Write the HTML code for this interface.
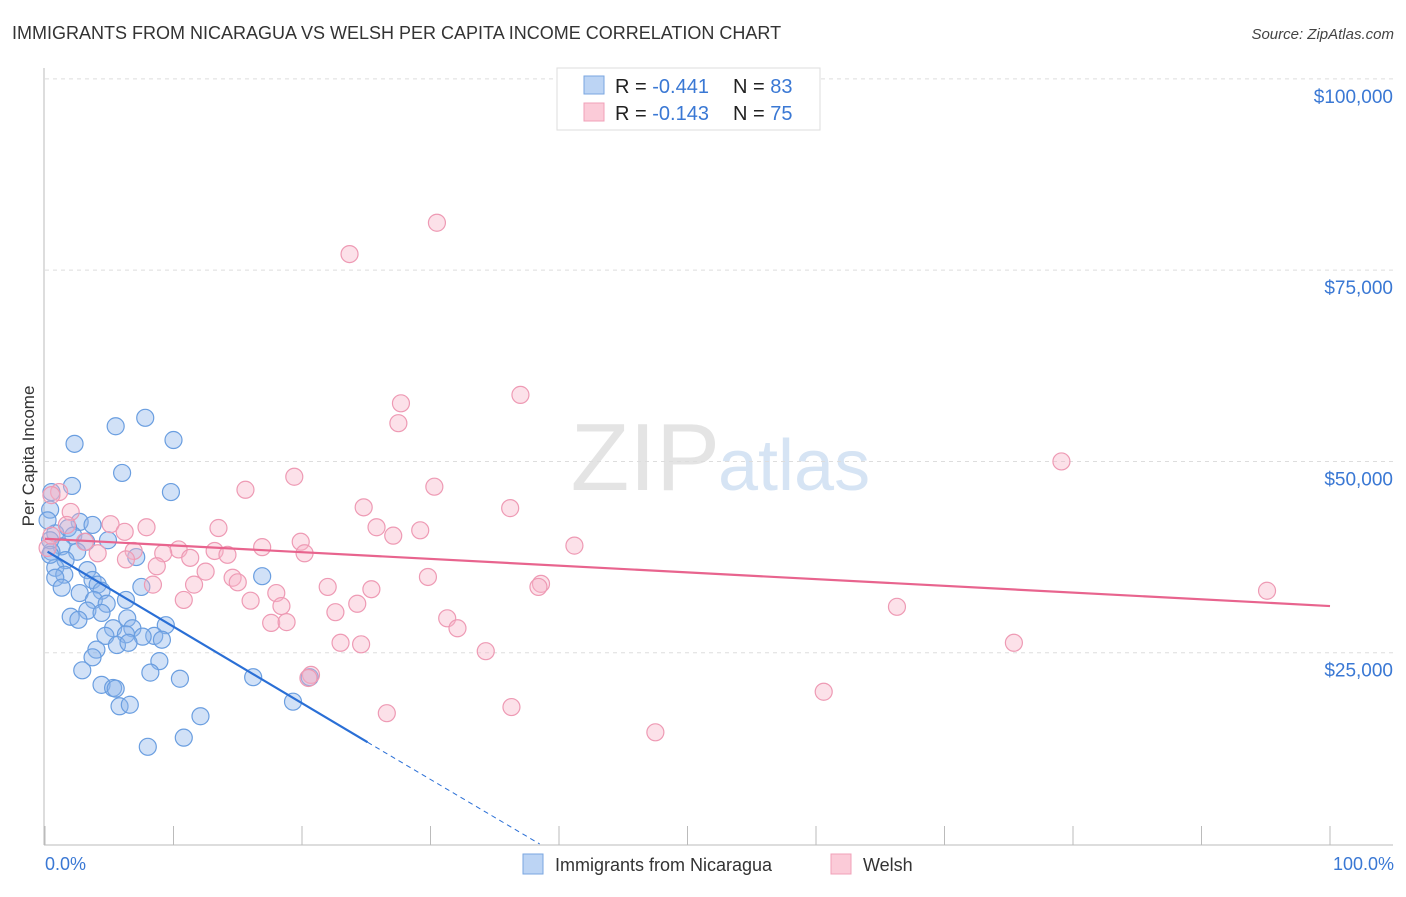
<!DOCTYPE html>
<html><head><meta charset="utf-8">
<style>
body{margin:0;background:#fff;font-family:"Liberation Sans",sans-serif;}
svg text{font-family:"Liberation Sans",sans-serif;}
</style></head>
<body>
<svg id="chart" width="1406" height="892" xmlns="http://www.w3.org/2000/svg">
<text x="12" y="39" font-size="18" fill="#333">IMMIGRANTS FROM NICARAGUA VS WELSH PER CAPITA INCOME CORRELATION CHART</text>
<text x="1394" y="39" font-size="15" fill="#444" font-style="italic" text-anchor="end">Source: ZipAtlas.com</text>
<text x="720" y="490" font-size="96" fill="#e4e4e4" text-anchor="end" font-family="Liberation Serif">ZIP</text>
<text x="718" y="490" font-size="72" fill="#d6e4f4">atlas</text>
<g id="grid"></g>
<g id="axes"></g>
<g id="pts"></g>
<g id="trend"></g>
<text transform="translate(34,456) rotate(-90)" font-size="17" fill="#333" text-anchor="middle">Per Capita Income</text>
<text x="45" y="870" font-size="18" fill="#3a78d4">0.0%</text>
<text x="1394" y="870" font-size="18" fill="#3a78d4" text-anchor="end">100.0%</text>
<g>
<rect x="557" y="68" width="263" height="62" fill="#fff" stroke="#ddd"/>
<rect x="584" y="76" width="20" height="18" fill="#bcd4f4" stroke="#7aa6e0"/>
<rect x="584" y="103" width="20" height="18" fill="#fbcbd8" stroke="#f0a0b8"/>
<text x="615" y="93" font-size="20" fill="#222">R = <tspan fill="#3a78d4">-0.441</tspan><tspan x="733">N = </tspan><tspan fill="#3a78d4">83</tspan></text>
<text x="615" y="120" font-size="20" fill="#222">R = <tspan fill="#3a78d4">-0.143</tspan><tspan x="733">N = </tspan><tspan fill="#3a78d4">75</tspan></text>
</g>
<g>
<rect x="523" y="854" width="20" height="20" fill="#bcd4f4" stroke="#7aa6e0"/>
<text x="555" y="871" font-size="18" fill="#333">Immigrants from Nicaragua</text>
<rect x="831" y="854" width="20" height="20" fill="#fbcbd8" stroke="#f0a0b8"/>
<text x="863" y="871" font-size="18" fill="#333">Welsh</text>
</g>
</svg>
<script>
const yTicks=[25000,50000,75000,100000];
const yTickLabels=["$25,000","$50,000","$75,000","$100,000"];
const xTicks=[0,10,20,30,40,50,60,70,80,90,100];
const blueX=[7.8,5.5,10.0,2.3,6.0,9.8,2.1,0.5,0.4,2.7,3.7,1.8,0.8,2.2,4.9,3.2,1.3,0.5,2.5,7.1,1.6,0.8,3.3,1.5,16.9,0.8,3.7,4.1,1.3,4.4,7.5,2.7,3.8,6.3,4.8,2.0,3.3,4.4,6.4,2.6,9.4,5.3,6.8,4.7,6.3,8.5,7.6,9.1,5.6,6.5,4.0,8.9,3.7,2.9,8.2,10.5,16.2,20.6,4.4,5.3,5.5,19.3,5.8,6.6,12.1,10.8,8.0,0.2,0.4,0.4];
const blueY=[55700,54600,52800,52300,48500,46000,46800,46000,43700,42100,41700,41300,40600,40300,39700,39500,38900,38200,38200,37500,37100,36100,35800,35200,35000,34800,34500,33900,33500,33100,33600,32800,31900,31900,31400,29700,30500,30200,29500,29300,28600,28200,28200,27200,27400,27200,27100,26700,26000,26300,25400,23900,24400,22700,22400,21600,21800,21800,20800,20400,20300,18600,18000,18200,16700,13900,12700,42300,39700,37800];
const pinkX=[30.5,23.7,37.0,27.7,27.5,79.1,30.3,15.6,19.4,1.1,0.5,24.8,36.2,2.0,1.7,25.8,13.5,7.9,5.1,29.2,6.2,27.1,19.9,41.2,3.1,16.9,10.4,13.2,6.9,20.2,9.2,4.1,14.2,11.3,6.3,8.7,12.5,14.6,29.8,15.0,8.4,11.6,38.6,38.4,25.4,22.0,18.0,10.8,16.0,24.3,18.4,22.6,66.3,95.1,31.3,17.6,18.8,32.1,23.0,24.6,75.4,34.3,20.7,20.5,60.6,36.3,26.6,47.5,0.2,0.5];
const pinkY=[81200,77100,58700,57600,55000,50000,46700,46300,48000,46000,45600,44000,43900,43400,41700,41400,41300,41400,41800,41000,40800,40300,39500,39000,39500,38800,38500,38300,38300,38000,38000,38000,37800,37400,37200,36300,35600,34800,34900,34200,33900,33900,34000,33600,33300,33600,32800,31900,31800,31400,31100,30300,31000,33100,29500,28900,29000,28200,26300,26100,26300,25200,22100,21700,19900,17900,17100,14600,38700,40300];
const blueTrend=[[0.2,38200],[25.1,13300],[38.5,0]];
const pinkTrend=[[0,39900],[100,31100]];
const NS="http://www.w3.org/2000/svg";
const X=v=>45+v*12.85;
const Y=v=>844-v/130.7;
function mk(tag,attrs,parent){const e=document.createElementNS(NS,tag);for(const k in attrs)e.setAttribute(k,attrs[k]);parent.appendChild(e);return e;}
const grid=document.getElementById('grid'),axes=document.getElementById('axes'),pts=document.getElementById('pts'),trend=document.getElementById('trend');
yTicks.forEach((t,i)=>{
 const l=mk('line',{x1:45,x2:1393,y1:Y(t),y2:Y(t),stroke:'#ddd','stroke-dasharray':'4,4'},grid);
 
 
 const tx=mk('text',{x:1393,y:Y(t)+24,'font-size':19,fill:'#3a78d4','text-anchor':'end'},grid);
 tx.textContent=yTickLabels[i];
 
 
});
const ax=mk('line',{x1:44,x2:1393,y1:845,y2:845,stroke:'#bbb'},axes);


const ay=mk('line',{x1:44,x2:44,y1:68,y2:845,stroke:'#bbb'},axes);


xTicks.forEach(t=>{
 const l=mk('line',{x1:X(t),x2:X(t),y1:826,y2:845,stroke:'#bbb'},axes);
 
 
});
blueX.forEach((v,i)=>{
 const c=mk('circle',{cx:X(v),cy:Y(blueY[i]),r:8.5,fill:'rgba(140,180,235,0.4)',stroke:'#6a9ee0','stroke-width':1.2},pts);
 
 
});
pinkX.forEach((v,i)=>{
 const c=mk('circle',{cx:X(v),cy:Y(pinkY[i]),r:8.5,fill:'rgba(248,180,200,0.4)',stroke:'#ee9ab4','stroke-width':1.2},pts);
 
 
});
const b1=mk('line',{x1:X(blueTrend[0][0]),y1:Y(blueTrend[0][1]),x2:X(blueTrend[1][0]),y2:Y(blueTrend[1][1]),stroke:'#2a6fd6','stroke-width':2.2},trend);


const b2=mk('line',{x1:X(blueTrend[1][0]),y1:Y(blueTrend[1][1]),x2:X(blueTrend[2][0]),y2:Y(blueTrend[2][1]),stroke:'#2a6fd6','stroke-width':1,'stroke-dasharray':'5,4'},trend);


const p1=mk('line',{x1:X(pinkTrend[0][0]),y1:Y(pinkTrend[0][1]),x2:X(pinkTrend[1][0]),y2:Y(pinkTrend[1][1]),stroke:'#e8648e','stroke-width':2.2},trend);


</script>
</body></html>
